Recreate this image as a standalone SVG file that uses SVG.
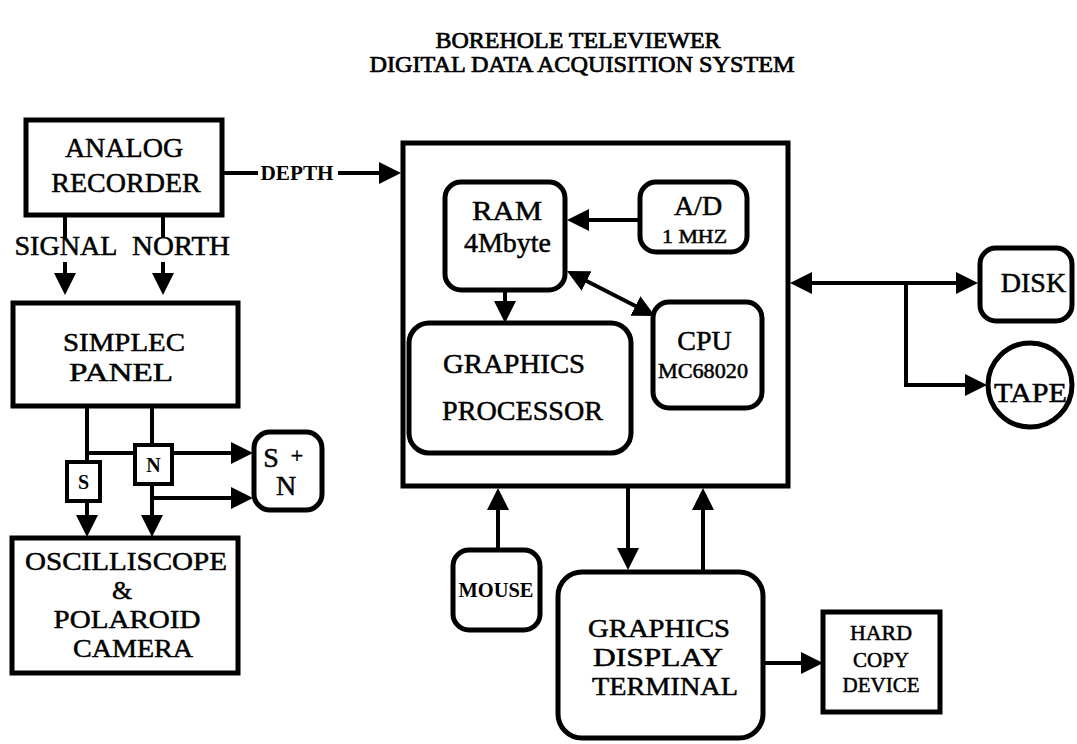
<svg xmlns="http://www.w3.org/2000/svg" width="1077" height="744" viewBox="0 0 1077 744">
<style>
text{font-family:"Liberation Serif","Times New Roman",serif;fill:#000;stroke:#000;stroke-width:0.5;text-anchor:middle}
.t{font-size:23px;stroke-width:0.7}
.l{font-size:28px}
.k{font-size:26px}
.m{font-size:21px}
.s{font-size:20px;font-weight:bold;stroke-width:0}
.box{fill:#fff;stroke:#000;stroke-width:5}
.con{fill:none;stroke:#000;stroke-width:4}
.arr{marker-end:url(#ah)}
.bi{marker-start:url(#ah);marker-end:url(#ah)}
</style>
<defs>
<marker id="ah" markerUnits="userSpaceOnUse" markerWidth="24" markerHeight="24" refX="10" refY="11" orient="auto-start-reverse" viewBox="0 0 24 24">
<path d="M0,0 L22,11 L0,22 z" fill="#000"/>
</marker>
</defs>
<rect width="1077" height="744" fill="#fff"/>

<g id="title">
<text class="t" x="578" y="48" textLength="285" lengthAdjust="spacingAndGlyphs">BOREHOLE TELEVIEWER</text>
<text class="t" x="582" y="72" textLength="425" lengthAdjust="spacingAndGlyphs">DIGITAL DATA ACQUISITION SYSTEM</text>
</g>

<g id="connectors">
<line class="con" x1="65" y1="215" x2="65" y2="237"/>
<line class="con" x1="163" y1="215" x2="163" y2="237"/>
<line class="con arr" x1="65" y1="262" x2="65" y2="283"/>
<line class="con arr" x1="163" y1="262" x2="163" y2="283"/>
<line class="con" x1="222" y1="173" x2="258" y2="173"/>
<line class="con arr" x1="338" y1="173" x2="389" y2="173"/>
<line class="con" x1="87" y1="406" x2="87" y2="462"/>
<line class="con" x1="85" y1="453" x2="135" y2="453"/>
<line class="con arr" x1="172" y1="453" x2="241" y2="453"/>
<line class="con" x1="152" y1="406" x2="152" y2="445"/>
<line class="con arr" x1="152" y1="484" x2="152" y2="525"/>
<line class="con arr" x1="150" y1="498" x2="241" y2="498"/>
<line class="con arr" x1="87" y1="501" x2="87" y2="525"/>
<line class="con arr" x1="640" y1="220" x2="579" y2="220"/>
<line class="con bi" x1="577.7" y1="276.5" x2="644.3" y2="310.5"/>
<line class="con arr" x1="505" y1="290" x2="505" y2="311"/>
<line class="con bi" x1="802" y1="283" x2="966" y2="283"/>
<polyline class="con arr" points="906,283 906,385 975,385"/>
<line class="con arr" x1="498" y1="550" x2="498" y2="500"/>
<line class="con arr" x1="628" y1="488" x2="628" y2="558"/>
<line class="con arr" x1="703" y1="572" x2="703" y2="500"/>
<line class="con arr" x1="763" y1="663" x2="811" y2="663"/>
</g>

<g id="analog-recorder">
<rect class="box" x="26" y="120" width="196" height="95"/>
<text class="l" x="124" y="157">ANALOG</text>
<text class="l" x="126" y="192">RECORDER</text>
</g>

<g id="depth-label">
<text x="297" y="180" style="font-size:20px;font-weight:bold;stroke-width:0" textLength="73" lengthAdjust="spacingAndGlyphs">DEPTH</text>
</g>

<g id="signal-north">
<text class="l" x="66" y="255" textLength="103" lengthAdjust="spacingAndGlyphs">SIGNAL</text>
<text class="l" x="181" y="255" textLength="98" lengthAdjust="spacingAndGlyphs">NORTH</text>
</g>

<g id="simplec-panel">
<rect class="box" x="13" y="303" width="225" height="103"/>
<text class="k" x="124" y="351" textLength="122" lengthAdjust="spacingAndGlyphs">SIMPLEC</text>
<text class="k" x="121" y="381" textLength="104" lengthAdjust="spacingAndGlyphs">PANEL</text>
</g>

<g id="s-box">
<rect class="box" x="67" y="462" width="33" height="39" style="stroke-width:4"/>
<text class="s" x="83.5" y="489">S</text>
</g>

<g id="n-box">
<rect class="box" x="135" y="445" width="37" height="39" style="stroke-width:4"/>
<text class="s" x="153.5" y="472">N</text>
</g>

<g id="s-plus-n">
<rect class="box" x="254" y="432" width="68" height="78" rx="16"/>
<text class="l" x="271" y="467">S</text>
<text x="297" y="463" style="font-size:22px">+</text>
<text class="l" x="286" y="495">N</text>
</g>

<g id="oscilliscope">
<rect class="box" x="12" y="538" width="226" height="135"/>
<text class="k" x="126" y="570" textLength="202" lengthAdjust="spacingAndGlyphs">OSCILLISCOPE</text>
<text class="k" x="122" y="599">&amp;</text>
<text class="k" x="127" y="628" textLength="147" lengthAdjust="spacingAndGlyphs">POLAROID</text>
<text class="k" x="133" y="657" textLength="120" lengthAdjust="spacingAndGlyphs">CAMERA</text>
</g>

<g id="main-system">
<rect class="box" x="403" y="143" width="385" height="343" style="fill:none"/>
</g>

<g id="ram">
<rect class="box" x="445" y="182" width="120" height="108" rx="16"/>
<text class="l" x="507" y="220" textLength="70" lengthAdjust="spacingAndGlyphs">RAM</text>
<text class="l" x="507.5" y="252">4Mbyte</text>
</g>

<g id="ad">
<rect class="box" x="640" y="182" width="107" height="70" rx="16"/>
<text class="l" x="698" y="215">A/D</text>
<text x="694.5" y="243" style="font-size:19px" textLength="65" lengthAdjust="spacingAndGlyphs">1 MHZ</text>
</g>

<g id="cpu">
<rect class="box" x="653" y="302" width="109" height="106" rx="16"/>
<text class="l" x="704.5" y="350">CPU</text>
<text class="m" x="703" y="378" textLength="90" lengthAdjust="spacingAndGlyphs">MC68020</text>
</g>

<g id="graphics-processor">
<rect class="box" x="409" y="323" width="222" height="130" rx="20"/>
<text class="l" x="514" y="373" textLength="142" lengthAdjust="spacingAndGlyphs">GRAPHICS</text>
<text class="l" x="522.5" y="420" textLength="161" lengthAdjust="spacingAndGlyphs">PROCESSOR</text>
</g>

<g id="disk">
<rect class="box" x="980" y="248" width="92" height="73" rx="16"/>
<text class="l" x="1033.5" y="292">DISK</text>
</g>

<g id="tape">
<circle class="box" cx="1030" cy="385" r="42"/>
<text class="l" x="1030.5" y="402" textLength="73" lengthAdjust="spacingAndGlyphs">TAPE</text>
</g>

<g id="mouse">
<rect class="box" x="453" y="550" width="87" height="80" rx="16"/>
<text class="s" x="496" y="597" textLength="75" lengthAdjust="spacingAndGlyphs">MOUSE</text>
</g>

<g id="graphics-display-terminal">
<rect class="box" x="558" y="572" width="205" height="166" rx="24"/>
<text class="k" x="659" y="637" textLength="142" lengthAdjust="spacingAndGlyphs">GRAPHICS</text>
<text class="k" x="658" y="666" textLength="130" lengthAdjust="spacingAndGlyphs">DISPLAY</text>
<text class="k" x="665" y="695" textLength="146" lengthAdjust="spacingAndGlyphs">TERMINAL</text>
</g>

<g id="hard-copy-device">
<rect class="box" x="823" y="612" width="117" height="100"/>
<text class="m" x="881" y="640" textLength="62" lengthAdjust="spacingAndGlyphs">HARD</text>
<text class="m" x="881" y="667">COPY</text>
<text class="m" x="881" y="692">DEVICE</text>
</g>
</svg>
